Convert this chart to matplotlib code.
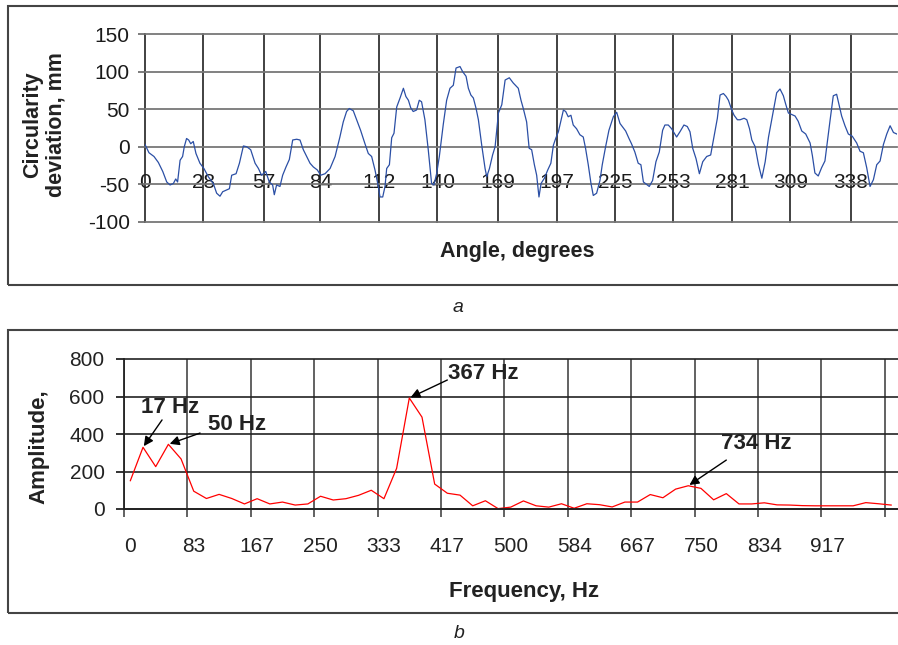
import numpy as np
import matplotlib
matplotlib.use("Agg")
from matplotlib import pyplot as plt
from matplotlib.patches import Rectangle

plt.rcParams['font.family'] = ['Liberation Sans', 'DejaVu Sans']
plt.rcParams['axes.unicode_minus'] = False

# --- (a) circularity deviation vs angle ---
angle_deg = [0, 1.9, 4.3, 6.4, 8.5, 10.4, 12.0, 13.6, 14.7, 15.6, 16.8, 18.0, 18.8, 19.9,
             20.9, 21.9, 23.1, 24.4, 26.3, 28.2, 30.3, 32.7, 34.3, 35.9, 37.2, 38.8, 40.4,
             41.5, 43.6, 45.2, 47.1, 48.7, 50.6, 52.7, 54.3, 55.8, 57.8, 59.5, 61.1, 61.9,
             63.0, 64.6, 65.9, 67.5, 69.1, 70.7, 72.6, 74.2, 75.8, 77.4, 79.0, 80.6, 82.5,
             84.1, 86.2, 88.6, 91.0, 93.3, 94.9, 96.5, 97.8, 99.7, 101.3, 103.2, 105.3,
             106.9, 108.5, 110.1, 111.7, 112.5, 113.8, 114.9, 115.7, 117.0, 118.1, 119.2,
             120.5, 122.1, 123.7, 124.9, 126.1, 127.2, 128.4, 130.0, 131.3, 132.4, 134.0,
             135.6, 137.2, 138.3, 139.6, 140.9, 142.8, 144.4, 146.0, 147.6, 148.9, 150.8,
             152.1, 153.7, 154.8, 156.0, 157.2, 158.5, 159.6, 161.2, 162.8, 163.6, 164.9,
             166.4, 167.6, 169.2, 170.8, 172.4, 174.4, 176.3, 178.7, 180.0, 181.1, 182.7,
             183.9, 185.1, 186.4, 187.5, 188.6, 189.6, 191.2, 192.8, 194.3, 195.5, 196.6,
             197.9, 199.2, 200.3, 201.4, 202.6, 203.9, 205.0, 206.6, 208.2, 209.8, 210.9,
             212.2, 213.5, 214.6, 216.2, 217.8, 218.9, 220.5, 222.1, 224.2, 225.8, 227.4,
             228.5, 230.1, 231.7, 232.9, 234.5, 236.1, 237.4, 238.6, 240.5, 241.4, 243.0,
             244.6, 246.2, 247.8, 248.9, 250.5, 252.1, 254.5, 256.1, 258.0, 259.6, 260.9,
             262.2, 263.8, 265.4, 267.0, 268.9, 270.8, 272.1, 274.0, 275.3, 276.9, 278.2,
             279.3, 280.9, 282.0, 283.6, 284.9, 286.8, 288.1, 289.4, 290.5, 292.1, 293.7,
             295.3, 296.9, 298.5, 300.8, 302.4, 304.0, 305.6, 306.7, 308.0, 309.6, 311.2,
             312.7, 314.4, 316.3, 318.4, 319.5, 320.7, 322.3, 323.9, 325.5, 326.8, 327.9,
             329.5, 331.1, 332.2, 333.5, 335.1, 336.7, 338.6, 340.7, 342.3, 343.9, 345.5,
             347.1, 348.7, 350.3, 351.9, 353.5, 355.1, 356.7, 358.3, 359.9]
deviation_mm = [3, -8, -13, -21, -33, -47, -51, -49, -43, -47, -18, -13, 0, 11,
                9, 4, 7, -9, -22, -29, -40, -49, -62, -66, -60, -58, -56,
                -38, -36, -22, 1, 0, -4, -22, -29, -38, -33, -47, -51, -64,
                -51, -53, -38, -27, -17, 9, 10, 9, -4, -13, -22, -27, -31,
                -38, -36, -29, -13, 13, 33, 47, 51, 48, 36, 22, 4,
                -9, -13, -31, -53, -67, -67, -53, -29, -24, 12, 18,
                53, 65, 78, 67, 62, 52, 47, 49, 62, 60, 36,
                -4, -49, -51, -36, -13, 30, 62, 78, 82, 105, 107,
                100, 94, 78, 69, 65, 51, 36, 2, -29, -40, -29,
                -11, 0, 45, 56, 89, 92, 85, 78, 62, 51, 33,
                -2, -4, -24, -38, -67, -49, -42, -31, -22, 2, 11,
                20, 36, 49, 47, 40, 42, 29, 24, 16, 13, -2,
                -24, -49, -65, -62, -45, -24, 0, 22, 40, 46, 31,
                27, 21, 11, 4, -7, -22, -24, -47, -51, -53, -45,
                -20, -7, 22, 29, 29, 24, 13, 20, 29, 27, 20,
                -2, -16, -36, -20, -13, -11, 9, 38, 69, 71, 67,
                62, 49, 42, 36, 36, 38, 36, 24, 9, 0, -24,
                -42, -20, 13, 48, 72, 77, 68, 57, 45, 43, 41,
                34, 21, 17, 5, -12, -35, -39, -28, -19, 10, 34,
                68, 70, 57, 41, 28, 17, 14, 5, -6, -8, -28,
                -53, -44, -24, -19, 3, 17, 28, 19, 17]
angle_ticks = [0, 28, 57, 84, 112, 140, 169, 197, 225, 253, 281, 309, 338]
dev_ticks = [-100, -50, 0, 50, 100, 150]

# --- (b) amplitude spectrum, one value per 16.7 Hz bin ---
amplitude = [151, 329, 226, 345, 267, 95, 56, 78, 56, 27, 55, 27, 37, 21, 27, 68,
             48, 55, 73, 100, 55, 217, 592, 490, 133, 84, 74, 17, 44, 2, 10, 43,
             17, 10, 28, 4, 28, 23, 11, 37, 37, 77, 60, 106, 124, 110, 49, 82, 27,
             27, 33, 22, 21, 18, 17, 17, 17, 17, 34, 28, 21]
freq_labels = ['0', '83', '167', '250', '333', '417', '500', '584', '667', '750', '834', '917']
amp_ticks = [0, 200, 400, 600, 800]
peaks = {'17 Hz': 1, '50 Hz': 3, '367 Hz': 22, '734 Hz': 44}

W, H = 898, 645
fig = plt.figure(figsize=(W / 100, H / 100), dpi=100)


def box(x0, y0, x1, y1):
    return [x0 / W, 1 - y1 / H, (x1 - x0) / W, (y1 - y0) / H]


# outer frames
for y0, y1 in [(6, 285), (330, 613)]:
    fig.patches.append(Rectangle((8 / W, 1 - y1 / H), 1.0, (y1 - y0) / H, transform=fig.transFigure,
                                 fill=False, edgecolor='#444444', lw=1.5))

# ---------- top chart ----------
ax1 = fig.add_axes(box(145, 34.3, 897, 221.7))
ax1.plot(angle_deg, deviation_mm, color='#2b4fa5', lw=0.9)
ax1.set_xlim(0, 360)
ax1.set_ylim(-100, 150)
ax1.set_xticks(angle_ticks)
ax1.set_xticklabels([str(t) for t in angle_ticks])
ax1.set_yticks(dev_ticks)
for s in ax1.spines.values():
    s.set_visible(False)
ax1.spines['bottom'].set_position(('data', 0))
ax1.tick_params(axis='x', length=0, pad=19, labelsize=15, colors='#1a1a1a')
ax1.tick_params(axis='y', length=5, width=1.2, color='#666666', pad=6, labelsize=15, labelcolor='#1a1a1a')
ax1.xaxis.grid(True, color='#333333', lw=1.3)
ax1.yaxis.grid(True, color='#777777', lw=1.3)
ax1.set_axisbelow(True)
for ln in ax1.get_xgridlines() + ax1.get_ygridlines():
    ln.set_clip_on(False)

fig.text(44 / W, 1 - 125 / H, 'Circularity\ndeviation, mm', rotation=90, ha='center', va='center',
         fontsize=15.5, fontweight='bold', color='#222222', linespacing=1.15)
fig.text(517 / W, 1 - 252 / H, 'Angle, degrees', ha='center', va='center',
         fontsize=15.5, fontweight='bold', color='#222222')
fig.text(458 / W, 1 - 307 / H, 'a', ha='center', va='center', fontsize=14, style='italic', color='#222222')

# ---------- bottom chart ----------
ax2 = fig.add_axes(box(124, 359, 897.5, 509))
ax2.plot(range(len(amplitude)), amplitude, color='#ff0000', lw=0.9)
ax2.set_xlim(-0.5, len(amplitude) - 0.5)
ax2.set_ylim(0, 800)
ax2.set_xticks(range(0, 5 * len(freq_labels), 5))
ax2.set_xticklabels(freq_labels)
ax2.set_xticks(np.arange(-0.5, len(amplitude) - 1, 5), minor=True)
ax2.set_yticks(amp_ticks)
for side in ['top', 'right']:
    ax2.spines[side].set_visible(False)
for side in ['left', 'bottom']:
    ax2.spines[side].set_color('#222222')
    ax2.spines[side].set_linewidth(1.3)
ax2.tick_params(axis='x', which='major', length=0, pad=20, labelsize=15, colors='#222222')
ax2.tick_params(axis='x', which='minor', length=6, width=1.3, color='#555555')
ax2.tick_params(axis='y', length=6, width=1.3, color='#222222', pad=8, labelsize=15, labelcolor='#222222')
ax2.xaxis.grid(True, which='minor', color='#555555', lw=1.3)
ax2.xaxis.grid(False, which='major')
ax2.yaxis.grid(True, color='#222222', lw=1.2)
ax2.set_axisbelow(True)
for ln in ax2.get_ygridlines():
    ln.set_clip_on(False)

label_pos = {'17 Hz': (3.1, 539), '50 Hz': (8.4, 453), '367 Hz': (27.8, 725), '734 Hz': (49.4, 347)}
tail_pos = {'17 Hz': (2.5, 475), '50 Hz': (5.5, 405), '367 Hz': (25.0, 688), '734 Hz': (47.0, 261)}
for name, idx in peaks.items():
    ax2.annotate('', xy=(idx, amplitude[idx]), xytext=tail_pos[name],
                 arrowprops=dict(arrowstyle='-|>', color='black', lw=1.0, mutation_scale=14,
                                 shrinkA=0, shrinkB=1))
    ax2.text(*label_pos[name], name, ha='center', va='center', fontsize=16,
             fontweight='bold', color='#222222')

fig.text(39 / W, 1 - 447 / H, 'Amplitude,', rotation=90, ha='center', va='center',
         fontsize=16, fontweight='bold', color='#222222')
fig.text(524 / W, 1 - 591 / H, 'Frequency, Hz', ha='center', va='center',
         fontsize=16, fontweight='bold', color='#222222')
fig.text(459 / W, 1 - 633 / H, 'b', ha='center', va='center', fontsize=14, style='italic', color='#222222')

fig.savefig('out.png', dpi=100)
